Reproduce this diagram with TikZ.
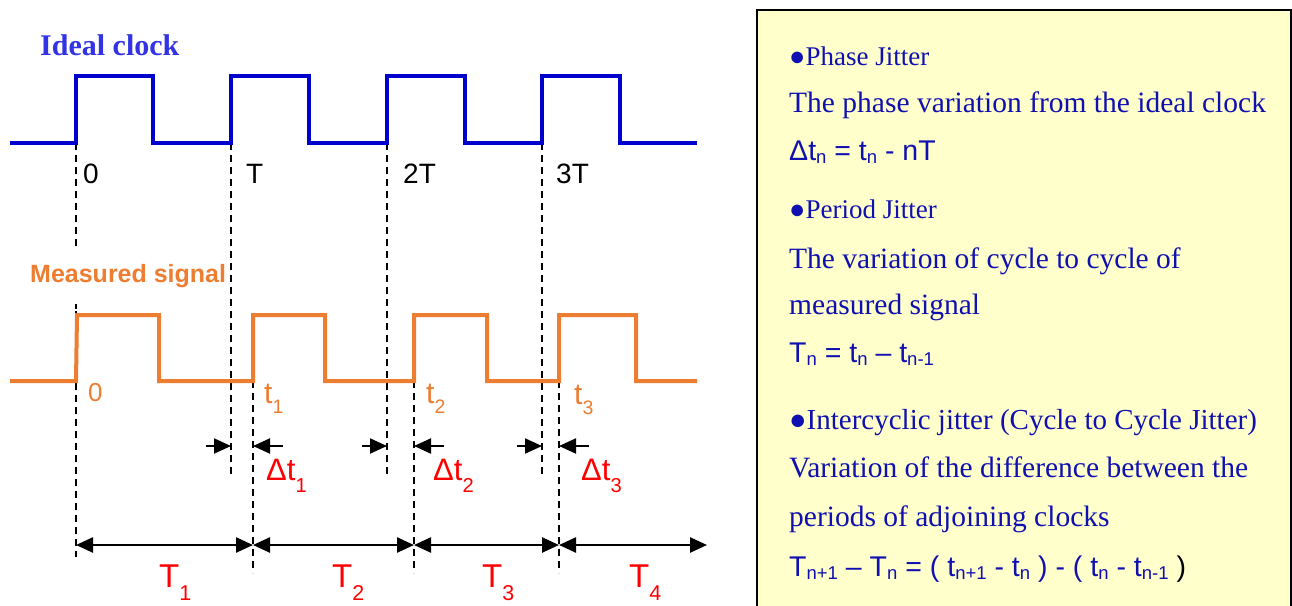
\documentclass[tikz,border=0pt]{standalone}
\usepackage{fontspec}
\setmainfont{Liberation Sans}
\newfontfamily\seriffont{Liberation Serif}
\usepackage{tikz}
\usetikzlibrary{arrows.meta, positioning, calc}
\definecolor{clkblue}{HTML}{0000CC}
\definecolor{lblblue}{HTML}{3333E6}
\definecolor{sigorange}{HTML}{ED7D31}
\definecolor{jitred}{HTML}{FF0000}
\definecolor{notecol}{HTML}{1010B0}
\definecolor{notefill}{HTML}{FFFFCC}
\newcommand{\dsub}[2]{\raisebox{-#1}{\scalebox{0.65}{#2}}}
\tikzset{
    clk/.style={line width=4pt, clkblue},
    msig/.style={line width=4pt, sigorange},
    guide/.style={dash pattern=on 7pt off 5pt, line width=1.6pt, black},
    darr/.style={-{Triangle[length=17pt, width=15pt]}, line width=2pt},
    parr/.style={{Triangle[length=17pt, width=15pt]}-{Triangle[length=17pt, width=15pt]}, line width=2.5pt},
    tick/.style={font=\fontsize{28}{30}\selectfont, anchor=base west, inner sep=0pt},
    edgelbl/.style={font=\fontsize{30}{32}\selectfont, sigorange, anchor=base west, inner sep=0pt},
    jitlbl/.style={font=\fontsize{31}{34}\selectfont, jitred, anchor=base west, inner sep=0pt},
    perlbl/.style={font=\fontsize{33}{36}\selectfont, jitred, anchor=base west, inner sep=0pt},
    notebox/.style={draw=black, line width=2pt, fill=notefill},
    notehead/.style={font=\seriffont\fontsize{27}{30}\selectfont, notecol, anchor=base west, inner sep=0pt},
    notetxt/.style={font=\seriffont\fontsize{29.5}{32}\selectfont, notecol, anchor=base west, inner sep=0pt},
    noteeq/.style={font=\fontsize{28.5}{32}\selectfont, notecol, anchor=base west, inner sep=0pt}
}
\begin{document}
\begin{tikzpicture}[x=1pt, y=-1pt]
    \useasboundingbox (0,0) rectangle (1292,605);
    % edges of both clocks
    \coordinate (i0) at (76,143);
    \coordinate (i1) at (231,143);
    \coordinate (i2) at (387,143);
    \coordinate (i3) at (542,143);
    \coordinate (m0) at (76,381);
    \coordinate (m1) at (253,381);
    \coordinate (m2) at (414,381);
    \coordinate (m3) at (559,381);
    \coordinate (ibot) at (0,475);
    \coordinate (mbot) at (0,573);
    \coordinate (drow) at (0,446);
    \coordinate (prow) at (0,545);
    \coordinate (pend) at (707,545);

    % guide lines
    \draw[guide] (i0) -- (76,557);
    \draw[guide] (i1) -- (i1 |- ibot);
    \draw[guide] (i2) -- (i2 |- ibot);
    \draw[guide] (i3) -- (i3 |- ibot);
    \draw[guide] (m1) -- (m1 |- mbot);
    \draw[guide] (m2) -- (m2 |- mbot);
    \draw[guide] (m3) -- (m3 |- mbot);

    % ideal clock
    \node[font=\seriffont\bfseries\fontsize{30}{32}\selectfont, lblblue, anchor=base west, inner sep=0pt] (ideal) at (40,55) {Ideal clock};
    \draw[clk] (10,143) -- (i0) -- (76,76) -- (153,76) -- (153,143) -- (i1) -- (231,76) -- (309,76) -- (309,143)
        -- (i2) -- (387,76) -- (465,76) -- (465,143) -- (i3) -- (542,76) -- (620,76) -- (620,143) -- (697,143);
    \node[tick] (t0) at (83,183) {0};
    \node[tick] (tT) at (246,183) {T};
    \node[tick] (t2T) at (403,183) {2T};
    \node[tick] (t3T) at (556,183) {3T};

    % measured signal
    \node[font=\bfseries\fontsize{25}{28}\selectfont, sigorange, fill=white, anchor=base west, inner xsep=0pt, inner ysep=17pt] (meas) at (30,282) {Measured signal};
    \draw[guide] (m0) -- (76,305);
    \draw[msig] (10,381) -- (m0) -- (77,315) -- (159,315) -- (159,381) -- (m1) -- (253,315) -- (325,315) -- (325,381)
        -- (m2) -- (414,315) -- (487,315) -- (487,381) -- (m3) -- (559,315) -- (636,315) -- (636,381) -- (697,381);
    \node[edgelbl, font=\fontsize{26}{28}\selectfont] (e0) at (88,401) {0};
    \node[edgelbl] (e1) at (264,403) {t\dsub{10pt}{1}};
    \node[edgelbl] (e2) at (426,403) {t\dsub{10pt}{2}};
    \node[edgelbl] (e3) at (574,404) {t\dsub{10pt}{3}};

    % phase jitter
    \draw[darr] ($(i1 |- drow)+(-25,0)$) -- (i1 |- drow);
    \draw[darr] ($(m1 |- drow)+(30,0)$) -- (m1 |- drow);
    \draw[darr] ($(i2 |- drow)+(-25,0)$) -- (i2 |- drow);
    \draw[darr] ($(m2 |- drow)+(30,0)$) -- (m2 |- drow);
    \draw[darr] ($(i3 |- drow)+(-25,0)$) -- (i3 |- drow);
    \draw[darr] ($(m3 |- drow)+(30,0)$) -- (m3 |- drow);
    \node[jitlbl] (dt1) at (266,480) {Δt\dsub{12pt}{1}};
    \node[jitlbl] (dt2) at (433,480) {Δt\dsub{12pt}{2}};
    \node[jitlbl] (dt3) at (581,480) {Δt\dsub{12pt}{3}};

    % periods
    \draw[parr] (m0 |- prow) -- (m1 |- prow);
    \draw[parr] (m1 |- prow) -- (m2 |- prow);
    \draw[parr] (m2 |- prow) -- (m3 |- prow);
    \draw[parr] (m3 |- prow) -- (pend);
    \node[perlbl] (p1) at (159,587) {T\dsub{13pt}{1}};
    \node[perlbl] (p2) at (332,587) {T\dsub{13pt}{2}};
    \node[perlbl] (p3) at (482,587) {T\dsub{13pt}{3}};
    \node[perlbl] (p4) at (629,587) {T\dsub{13pt}{4}};

    % definitions
    \draw[notebox] (757,10) rectangle (1291,620);
    \node[notehead] (phase) at (789,65) {●Phase Jitter};
    \node[notetxt] (phasedef) at (789,112) {The phase variation from the ideal clock};
    \node[noteeq] (phaseeq) at (789,160) {Δt\dsub{3pt}{n} = t\dsub{3pt}{n} - nT};
    \node[notehead] (period) at (789,218) {●Period Jitter};
    \node[notetxt] (perioddef) at (789,268) {The variation of cycle to cycle of};
    \node[notetxt] (perioddef2) at (789,314) {measured signal};
    \node[noteeq] (periodeq) at (789,362) {T\dsub{3pt}{n} = t\dsub{3pt}{n} – t\dsub{3pt}{n-1}};
    \node[notehead, font=\seriffont\fontsize{29}{32}\selectfont] (cycle) at (789,429) {●Intercyclic jitter (Cycle to Cycle Jitter)};
    \node[notetxt] (cycledef) at (789,477) {Variation of the difference between the};
    \node[notetxt] (cycledef2) at (789,526) {periods of adjoining clocks};
    \node[noteeq] (cycleeq) at (789,576) {T\dsub{3pt}{n+1} – T\dsub{3pt}{n} = ( t\dsub{3pt}{n+1} - t\dsub{3pt}{n} ) - ( t\dsub{3pt}{n} - t\dsub{3pt}{n-1} \textcolor{black}{)}};
\end{tikzpicture}
\end{document}
